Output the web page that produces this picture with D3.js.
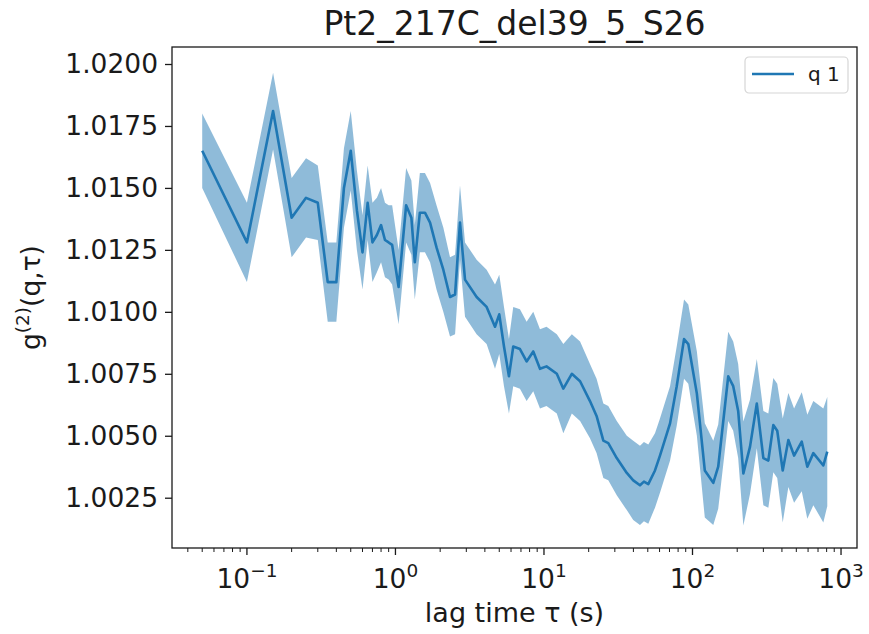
<!DOCTYPE html>
<html>
<head>
<meta charset="utf-8">
<script src="https://cdn.jsdelivr.net/npm/d3@7"></script>
<style>
    body { margin: 0; background: #fff; }
    text { font-family: "DejaVu Sans", sans-serif; fill: #1a1a1a; }
</style>
</head>
<body>
<div id="g2-plot"></div>
<script>
// Data: lag time, mean g2 and band half-width
const tau = [
    0.05, 0.10, 0.15, 0.20, 0.25, 0.30, 0.35, 0.40, 0.45, 0.50,
    0.55, 0.60, 0.65, 0.70, 0.75, 0.80, 0.85, 0.90, 0.95, 1.05,
    1.18, 1.28, 1.35, 1.46, 1.58, 1.71, 1.89, 2.10, 2.33, 2.52,
    2.72, 2.94, 3.52, 4.11, 4.68, 5.00, 5.38, 5.81, 6.21, 6.89,
    7.64, 8.47, 9.40, 10.4, 12.2, 13.5, 15.4, 17.5, 20.4, 22.6,
    25.1, 27.1, 30.9, 36.1, 39.9, 44.3, 47.1, 50.4, 55.9, 60.4,
    70.6, 78.3, 87.7, 93.7, 107, 121, 138, 149, 174, 188,
    203, 220, 244, 271, 300, 324, 350, 372, 405, 442,
    483, 544, 593, 651, 760, 808
];

const g2 = [
    1.0165, 1.0128, 1.0181, 1.0138, 1.0146, 1.0144, 1.0112, 1.0112, 1.0150, 1.0165,
    1.0141, 1.0124, 1.0144, 1.0128, 1.0131, 1.0135, 1.0129, 1.0128, 1.0127, 1.0110,
    1.0143, 1.0138, 1.0120, 1.0140, 1.0140, 1.0136, 1.0126, 1.0117, 1.0106, 1.0107,
    1.0136, 1.0113, 1.0106, 1.0102, 1.0094, 1.0099, 1.0086, 1.0074, 1.0086, 1.0085,
    1.0080, 1.0084, 1.0077, 1.0078, 1.0075, 1.0069, 1.0075, 1.0072, 1.0064, 1.0058,
    1.0048, 1.0047, 1.0041, 1.0035, 1.0032, 1.0030, 1.00315, 1.00305, 1.0036, 1.0042,
    1.0055, 1.0070, 1.0089, 1.0087, 1.0067, 1.0036, 1.0031, 1.00375, 1.0074, 1.0070,
    1.0060, 1.00348, 1.00456, 1.0063, 1.0041, 1.0040, 1.00543, 1.0052, 1.0036, 1.00483,
    1.0042, 1.00476, 1.00375, 1.0043, 1.0038, 1.00436
];

const g2Err = [
    0.0015, 0.0016, 0.00155, 0.0016, 0.0016, 0.0015, 0.0016, 0.0016, 0.0016, 0.0016,
    0.0016, 0.0015, 0.0015, 0.0016, 0.0015, 0.0015, 0.0015, 0.0015, 0.0016, 0.0015,
    0.0015, 0.0015, 0.0015, 0.0016, 0.0016, 0.0016, 0.0017, 0.0017, 0.0016, 0.0016,
    0.0015, 0.0015, 0.0015, 0.0015, 0.0017, 0.0016, 0.0016, 0.0015, 0.0016, 0.0016,
    0.0016, 0.0016, 0.0016, 0.0016, 0.0016, 0.0018, 0.0016, 0.0016, 0.0015, 0.0015,
    0.0015, 0.0015, 0.0015, 0.0015, 0.0016, 0.0016, 0.0016, 0.0016, 0.0015, 0.0015,
    0.0015, 0.0016, 0.0016, 0.0016, 0.0017, 0.0019, 0.0017, 0.0017, 0.0018, 0.0018,
    0.0019, 0.0021, 0.0019, 0.0018, 0.0019, 0.0019, 0.0019, 0.0019, 0.0021, 0.0019,
    0.0019, 0.0020, 0.0021, 0.0021, 0.0023, 0.0022
];

const yTicks = [1.0025, 1.0050, 1.0075, 1.0100, 1.0125, 1.0150, 1.0175, 1.0200];
const xMajorExp = [-1, 0, 1, 2, 3];

const chartTitle = 'Pt2_217C_del39_5_S26';
const seriesName = 'q 1';

function createG2Plot(width = 869, height = 634) {
    const margin = { left: 172, right: 12, top: 47, bottom: 86 };
    const color = '#1f77b4';

    const points = tau.map((t, i) => ({ t, g: g2[i], e: g2Err[i] }));

    const x = d3.scaleLog()
        .domain([0.0313, 1281])
        .range([margin.left, width - margin.right]);

    const y = d3.scaleLinear()
        .domain([1.000471, 1.020686])
        .range([height - margin.bottom, margin.top]);

    const svg = d3.select('#g2-plot')
        .append('svg')
        .attr('width', width)
        .attr('height', height);

    // Error band
    svg.append('path')
        .datum(points)
        .attr('d', d3.area()
            .x(d => x(d.t))
            .y0(d => y(d.g - d.e))
            .y1(d => y(d.g + d.e)))
        .style('fill', color)
        .style('fill-opacity', 0.5);

    // Mean curve
    svg.append('path')
        .datum(points)
        .attr('d', d3.line().x(d => x(d.t)).y(d => y(d.g)))
        .style('fill', 'none')
        .style('stroke', color)
        .style('stroke-width', 2.6)
        .style('stroke-linejoin', 'round');

    // Frame
    svg.append('rect')
        .attr('x', margin.left)
        .attr('y', margin.top)
        .attr('width', width - margin.left - margin.right)
        .attr('height', height - margin.top - margin.bottom)
        .style('fill', 'none')
        .style('stroke', '#1a1a1a')
        .style('stroke-width', 1.3);

    // y axis
    const yAxis = svg.append('g')
        .attr('transform', `translate(${margin.left},0)`)
        .call(d3.axisLeft(y).tickValues(yTicks).tickFormat(d3.format('.4f'))
            .tickSize(7).tickPadding(7));
    yAxis.select('.domain').remove();
    yAxis.selectAll('line').style('stroke', '#1a1a1a').style('stroke-width', 1.3);
    yAxis.selectAll('text')
        .style('font-size', '26.5px')
        .style('font-family', '"DejaVu Sans", sans-serif')
        .style('fill', '#1a1a1a');

    // x axis, log ticks (majors labelled as powers of ten)
    const xb = height - margin.bottom;
    const allTicks = x.ticks().filter(t => t >= x.domain()[0] && t <= x.domain()[1]);
    const isMajor = t => Math.abs(Math.log10(t) - Math.round(Math.log10(t))) < 1e-9;

    svg.append('g')
        .selectAll('line')
        .data(allTicks)
        .join('line')
        .attr('x1', d => x(d))
        .attr('x2', d => x(d))
        .attr('y1', xb)
        .attr('y2', d => xb + (isMajor(d) ? 7 : 4))
        .style('stroke', '#1a1a1a')
        .style('stroke-width', d => isMajor(d) ? 1.3 : 1);

    const xLabels = svg.append('g')
        .selectAll('text')
        .data(xMajorExp)
        .join('text')
        .attr('x', d => x(Math.pow(10, d)))
        .attr('y', 588)
        .style('text-anchor', 'middle')
        .style('font-size', '26.5px');
    xLabels.append('tspan').text('10');
    xLabels.append('tspan')
        .attr('dy', -11)
        .style('font-size', '18.5px')
        .text(d => d < 0 ? '\u2212' + Math.abs(d) : String(d));

    // Axis titles
    svg.append('text')
        .attr('x', (margin.left + width - margin.right) / 2)
        .attr('y', 622)
        .style('text-anchor', 'middle')
        .style('font-size', '27px')
        .text('lag time \u03c4 (s)');

    const yLabel = svg.append('text')
        .attr('transform', `translate(40,${(margin.top + xb) / 2}) rotate(-90)`)
        .style('text-anchor', 'middle')
        .style('font-size', '26.5px');
    yLabel.append('tspan').text('g');
    yLabel.append('tspan').attr('dy', -11).style('font-size', '18.5px').text('(2)');
    yLabel.append('tspan').attr('dy', 11).text('(q,\u03c4)');

    svg.append('text')
        .attr('x', (margin.left + width - margin.right) / 2)
        .attr('y', 35)
        .style('text-anchor', 'middle')
        .style('font-size', '33px')
        .text(chartTitle);

    // Legend
    const legend = svg.append('g').attr('transform', 'translate(745,57)');
    legend.append('rect')
        .attr('width', 103)
        .attr('height', 36)
        .attr('rx', 4)
        .style('fill', 'white')
        .style('fill-opacity', 0.8)
        .style('stroke', '#d6d6d6')
        .style('stroke-width', 1.2);
    legend.append('line')
        .attr('x1', 7).attr('x2', 49)
        .attr('y1', 17).attr('y2', 17)
        .style('stroke', color)
        .style('stroke-width', 2.6);
    legend.append('text')
        .attr('x', 63)
        .attr('y', 24)
        .style('font-size', '20px')
        .text(seriesName);
}

createG2Plot();
</script>
</body>
</html>
